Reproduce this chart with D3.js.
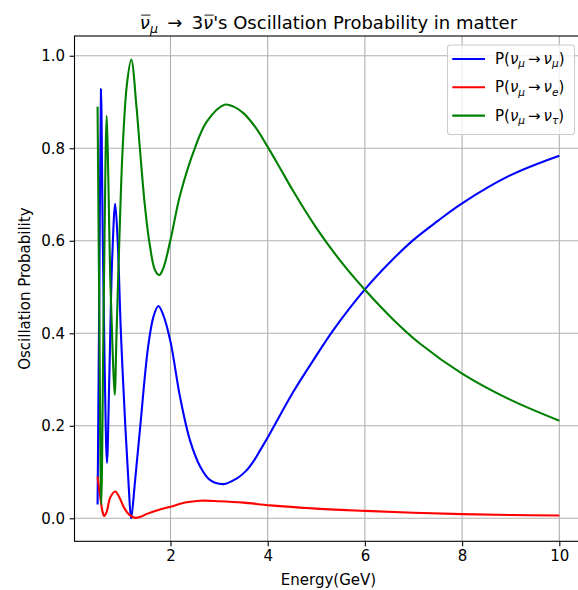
<!DOCTYPE html>
<html>
<head>
<meta charset="utf-8">
<script src="https://cdn.jsdelivr.net/npm/d3@7"></script>
<style>
  html, body { margin: 0; padding: 0; background: #ffffff; }
  svg { display: block; font-family: "DejaVu Sans", sans-serif; }
</style>
</head>
<body>
<svg id="chart" width="578" height="590"></svg>
<script>
// ---- data ----
const energyMuMu = [0.50, 0.535, 0.57, 0.605, 0.645, 0.693, 0.74, 0.80, 0.862, 0.913, 0.98, 1.07, 1.14, 1.19,
  1.27, 1.37, 1.54, 1.65, 1.75, 1.85, 2.0, 2.195, 2.40, 2.61, 2.81, 3.09, 3.36, 3.55, 3.70, 3.85, 4.05, 4.53, 4.94, 5.35,
  6.0, 6.5, 7.0, 7.5, 8.0, 9.0, 10.0];
const probMuMu = [0.03, 0.48, 0.928, 0.62, 0.33, 0.12, 0.30, 0.56, 0.68, 0.60, 0.40, 0.20, 0.07, 0.0,
  0.08, 0.19, 0.371, 0.436, 0.459, 0.44, 0.382, 0.263, 0.169, 0.112, 0.083, 0.074, 0.086, 0.102, 0.122, 0.148, 0.184, 0.274, 0.342, 0.407,
  0.495, 0.552, 0.602, 0.643, 0.681, 0.742, 0.784];

const energyMuE = [0.50, 0.55, 0.60, 0.638, 0.69, 0.76, 0.864, 0.95, 1.05, 1.15, 1.28, 1.40, 1.50, 1.75,
  2.0, 2.3, 2.61, 3.0, 3.5, 4.05, 5.0, 6.0, 7.0, 8.0, 9.0, 10.0];
const probMuE = [0.09, 0.05, 0.015, 0.005, 0.015, 0.045, 0.058, 0.045, 0.022, 0.008, 0.001, 0.004, 0.009, 0.018,
  0.025, 0.034, 0.038, 0.037, 0.034, 0.028, 0.021, 0.016, 0.012, 0.009, 0.007, 0.006];

const energyMuTau = [0.50, 0.535, 0.575, 0.63, 0.687, 0.72, 0.76, 0.81, 0.852, 0.89, 0.947, 1.016, 1.105, 1.193,
  1.30, 1.37, 1.475, 1.58, 1.68, 1.77, 1.85, 2.0, 2.2, 2.5, 2.75, 3.11, 3.30, 3.50, 3.75, 4.0, 4.25, 4.5, 5.0, 5.5,
  6.0, 6.58, 7.13, 8.0, 9.0, 10.0];
const probMuTau = [0.89, 0.45, 0.03, 0.50, 0.87, 0.74, 0.52, 0.36, 0.267, 0.40, 0.60, 0.80, 0.94, 0.992,
  0.89, 0.80, 0.674, 0.587, 0.537, 0.526, 0.54, 0.602, 0.70, 0.80, 0.858, 0.894, 0.89, 0.876, 0.845, 0.803, 0.758, 0.712, 0.628, 0.556,
  0.494, 0.43, 0.378, 0.313, 0.256, 0.211];

const xTicks = [2, 4, 6, 8, 10];
const yTicks = [0.0, 0.2, 0.4, 0.6, 0.8, 1.0];
const xTickLabels = ["2", "4", "6", "8", "10"];
const yTickLabels = ["0.0", "0.2", "0.4", "0.6", "0.8", "1.0"];
const seriesNames = ["mumu", "mue", "mutau"];
const seriesColors = ["#0000ff", "#ff0000", "#008000"];
const legendSub = ["μ", "e", "τ"];
const titleRest = "'s Oscillation Probability in matter";
const xLabel = "Energy(GeV)";
const yLabel = "Oscillation Probability";

// ---- layout ----
const svg = d3.select("#chart");
const L = 74.5, R = 582.4, T = 36.0, B = 541.3;
const x = d3.scaleLinear().domain([0.025, 10.475]).range([L, R]);
const y = d3.scaleLinear().domain([-0.0497, 1.0427]).range([B, T]);
const FS = 15;

// grid
const grid = svg.append("g");
grid.selectAll("line.gx").data(xTicks).join("line")
  .attr("x1", d => x(d)).attr("x2", d => x(d)).attr("y1", T).attr("y2", B)
  .attr("stroke", "#b0b0b0").attr("stroke-width", 1.1);
grid.selectAll("line.gy").data(yTicks).join("line")
  .attr("x1", L).attr("x2", R).attr("y1", d => y(d)).attr("y2", d => y(d))
  .attr("stroke", "#b0b0b0").attr("stroke-width", 1.1);

// lines
const series = [
  d3.zip(energyMuMu, probMuMu),
  d3.zip(energyMuE, probMuE),
  d3.zip(energyMuTau, probMuTau)
];
const line = d3.line().x(d => x(d[0])).y(d => y(d[1])).curve(d3.curveCatmullRom.alpha(0.5));
svg.append("g").selectAll("path").data(series).join("path")
  .attr("d", line)
  .attr("fill", "none")
  .attr("stroke", (d, i) => seriesColors[i])
  .attr("stroke-width", 2.1)
  .attr("stroke-linejoin", "round");

// axes
const xAxis = d3.axisBottom(x).tickValues(xTicks).tickFormat((d, i) => xTickLabels[i]).tickSize(4.9).tickPadding(4.5);
const yAxis = d3.axisLeft(y).tickValues(yTicks).tickFormat((d, i) => yTickLabels[i]).tickSize(4.9).tickPadding(4.5);
const gx = svg.append("g").attr("transform", `translate(0,${B})`).call(xAxis);
const gy = svg.append("g").attr("transform", `translate(${L},0)`).call(yAxis);
[gx, gy].forEach(g => {
  g.select(".domain").remove();
  g.selectAll(".tick line").attr("stroke", "#000").attr("stroke-width", 1.1);
  g.selectAll(".tick text").attr("fill", "#000").style("font-size", FS + "px").style("font-family", "DejaVu Sans");
});

// frame
svg.append("rect").attr("x", L).attr("y", T).attr("width", R - L).attr("height", B - T)
  .attr("fill", "none").attr("stroke", "#000").attr("stroke-width", 1.1);

// axis labels
svg.append("text").attr("x", (L + R) / 2).attr("y", 584.5).attr("text-anchor", "middle")
  .style("font-size", FS + "px").text(xLabel);
svg.append("text").attr("transform", `translate(30,${(T + B) / 2}) rotate(-90)`).attr("text-anchor", "middle")
  .style("font-size", FS + "px").text(yLabel);

// title
const TFS = 18;
const TY = 28.8;
const title = svg.append("text").attr("x", (L + R) / 2).attr("y", TY).attr("text-anchor", "middle")
  .style("font-size", TFS + "px");
const nu1 = title.append("tspan").style("font-style", "italic").text("ν");
title.append("tspan").style("font-style", "italic").style("font-size", (TFS * 0.7) + "px").attr("dy", 3.8).text("μ");
title.append("tspan").attr("dy", -3.8).text("\u00a0\u2009→\u00a0\u20093");
const nu2 = title.append("tspan").style("font-style", "italic").text("ν");
title.append("tspan").text(titleRest);
[nu1, nu2].forEach(t => {
  const b = t.node().getBBox();
  svg.append("line").attr("x1", b.x + 1.3).attr("x2", b.x + b.width + 0.6)
    .attr("y1", TY - 0.76 * TFS).attr("y2", TY - 0.76 * TFS)
    .attr("stroke", "#000").attr("stroke-width", 0.9);
});

// legend
const lg = svg.append("g");
lg.append("rect").attr("x", 447.5).attr("y", 45).attr("width", 127).attr("height", 89.5)
  .attr("rx", 2.8).attr("fill", "rgba(255,255,255,0.8)").attr("stroke", "#cccccc").attr("stroke-width", 1.1);
seriesNames.forEach((name, i) => {
  const cy = 59 + i * 28.3;
  lg.append("line").attr("x1", 452.3).attr("x2", 485).attr("y1", cy).attr("y2", cy)
    .attr("stroke", seriesColors[i]).attr("stroke-width", 2.1);
  const t = lg.append("text").attr("x", 495).attr("y", cy + 5).style("font-size", FS + "px");
  t.append("tspan").text("P(");
  t.append("tspan").style("font-style", "italic").text("ν");
  t.append("tspan").style("font-style", "italic").style("font-size", (FS * 0.7) + "px").attr("dy", 3.2).text("μ");
  t.append("tspan").attr("dy", -3.2).text("\u2009→\u2009");
  t.append("tspan").style("font-style", "italic").text("ν");
  t.append("tspan").style("font-style", "italic").style("font-size", (FS * 0.7) + "px").attr("dy", 3.2).text(legendSub[i]);
  t.append("tspan").attr("dy", -3.2).text(")");
});
</script>
</body>
</html>
